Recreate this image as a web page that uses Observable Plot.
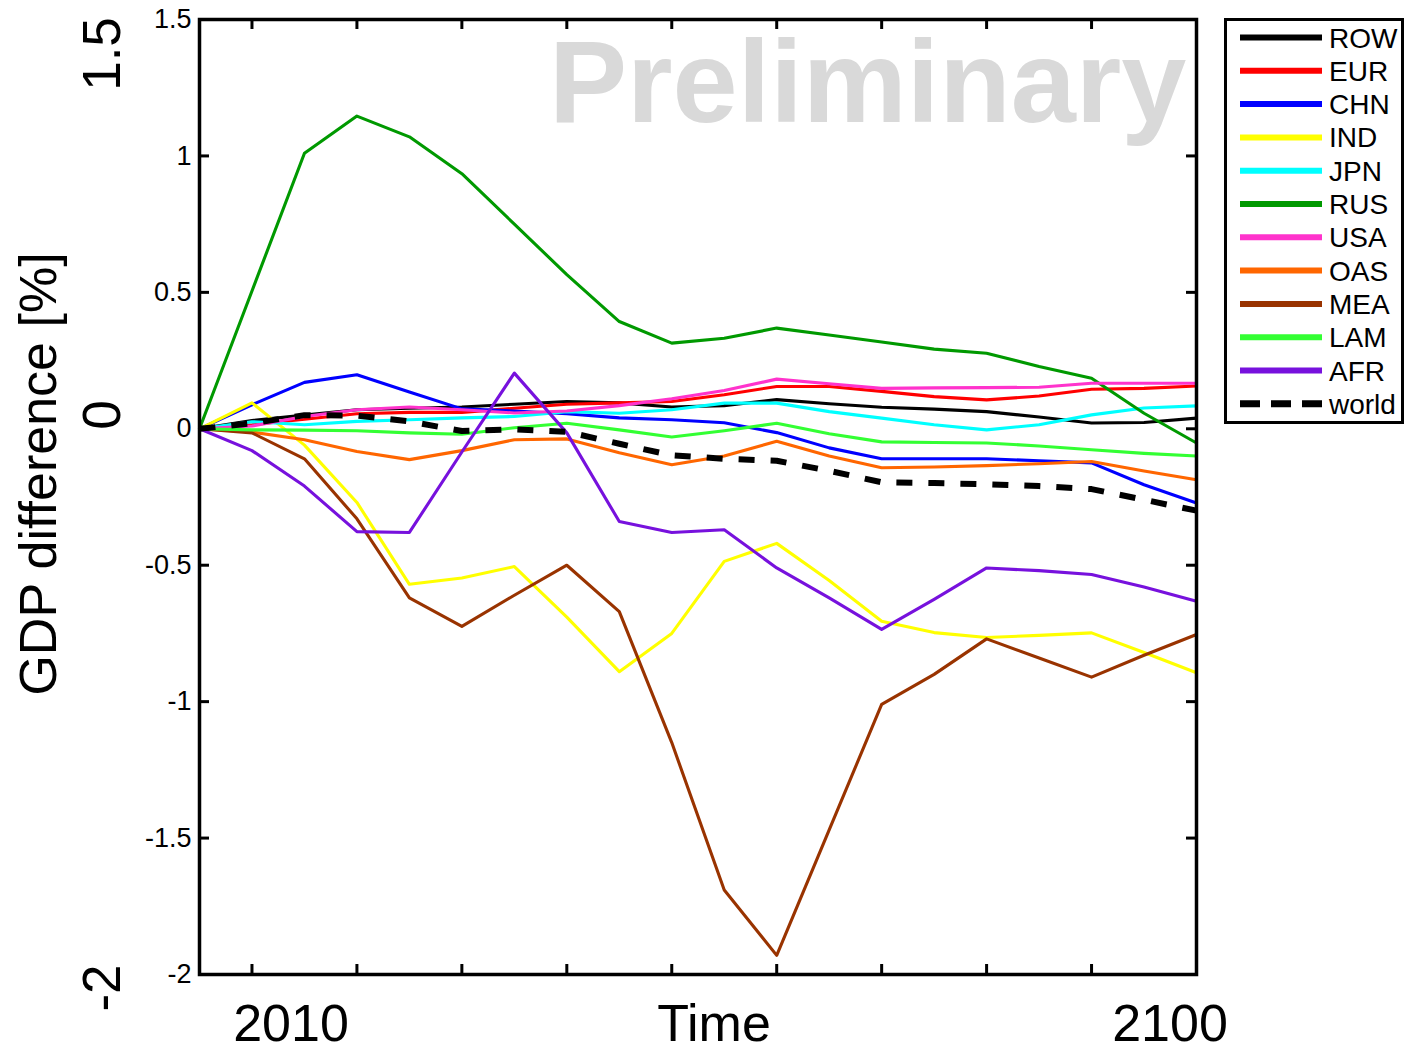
<!DOCTYPE html>
<html><head><meta charset="utf-8">
<script src="https://cdn.jsdelivr.net/npm/d3@7"></script>
<script src="https://cdn.jsdelivr.net/npm/@observablehq/plot@0.6"></script>
<style>
body{margin:0;background:#fff;}
#wrap{position:relative;width:1412px;height:1052px;}
</style></head><body><div id="wrap"></div>
<script>
const FONT = "'Liberation Sans', Arial, Helvetica, sans-serif";

const years = [2005,2010,2015,2020,2025,2030,2035,2040,2045,2050,2055,2060,2065,2070,2075,2080,2085,2090,2095,2100];
const regions = ["ROW","EUR","CHN","IND","JPN","RUS","USA","OAS","MEA","LAM","AFR","world"];
const colors  = ["#000000","#FF0000","#0000FF","#FFFF00","#00FFFF","#009900","#FF33CC","#FF6600","#993300","#33FF33","#7711DD","#000000"];

const ROW   = [0, 0.03, 0.05, 0.07, 0.075, 0.08, 0.09, 0.1, 0.095, 0.08, 0.085, 0.107, 0.092, 0.079, 0.072, 0.063, 0.043, 0.021, 0.023, 0.039];
const EUR   = [0, 0.015, 0.035, 0.055, 0.06, 0.06, 0.075, 0.09, 0.095, 0.1, 0.125, 0.155, 0.155, 0.137, 0.118, 0.106, 0.12, 0.145, 0.148, 0.157];
const CHN   = [0, 0.088, 0.17, 0.198, 0.135, 0.073, 0.065, 0.055, 0.04, 0.033, 0.022, -0.014, -0.07, -0.11, -0.11, -0.11, -0.117, -0.125, -0.205, -0.272];
const IND   = [0, 0.095, -0.06, -0.27, -0.57, -0.547, -0.505, -0.69, -0.89, -0.75, -0.486, -0.42, -0.556, -0.705, -0.747, -0.765, -0.757, -0.748, -0.82, -0.894];
const JPN   = [0, 0.026, 0.015, 0.027, 0.033, 0.04, 0.045, 0.063, 0.057, 0.07, 0.094, 0.094, 0.063, 0.039, 0.015, -0.004, 0.015, 0.051, 0.076, 0.084];
const RUS   = [0, 0.505, 1.01, 1.146, 1.07, 0.935, 0.75, 0.565, 0.393, 0.314, 0.332, 0.369, 0.344, 0.318, 0.292, 0.277, 0.228, 0.185, 0.057, -0.052];
const USA   = [0, 0.01, 0.045, 0.07, 0.08, 0.07, 0.058, 0.065, 0.085, 0.11, 0.14, 0.182, 0.165, 0.148, 0.15, 0.151, 0.152, 0.167, 0.167, 0.167];
const OAS   = [0, -0.012, -0.04, -0.083, -0.113, -0.08, -0.04, -0.037, -0.088, -0.132, -0.1, -0.046, -0.1, -0.143, -0.14, -0.135, -0.128, -0.12, -0.155, -0.187];
const MEA   = [0, -0.015, -0.11, -0.33, -0.62, -0.724, -0.61, -0.5, -0.67, -1.15, -1.69, -1.93, -1.47, -1.01, -0.9, -0.77, -0.84, -0.91, -0.83, -0.754];
const LAM   = [0, -0.004, -0.005, -0.007, -0.015, -0.02, 0.004, 0.02, -0.004, -0.03, -0.007, 0.02, -0.018, -0.048, -0.05, -0.052, -0.063, -0.077, -0.09, -0.1];
const AFR   = [0, -0.08, -0.21, -0.377, -0.38, -0.085, 0.204, -0.015, -0.34, -0.38, -0.37, -0.51, -0.62, -0.735, -0.625, -0.51, -0.52, -0.534, -0.58, -0.632];
const world = [0, 0.02, 0.05, 0.048, 0.027, -0.008, -0.002, -0.011, -0.055, -0.097, -0.11, -0.117, -0.154, -0.196, -0.199, -0.203, -0.21, -0.221, -0.26, -0.3];

const seriesValues = [ROW, EUR, CHN, IND, JPN, RUS, USA, OAS, MEA, LAM, AFR, world];

const xTicks = [2010,2020,2030,2040,2050,2060,2070,2080,2090];
const yTicks = [-2,-1.5,-1,-0.5,0,0.5,1,1.5];
const yTickLabels = ["-2","-1.5","-1","-0.5","0","0.5","1","1.5"];

const xLabels = ["2010","Time","2100"];
const yLabel = "GDP difference [%]";
const bigYLabels = ["1.5","0","-2"];
const watermark = "Preliminary";

// long table
const data = [];
regions.forEach((r, i) => seriesValues[i].forEach((v, j) => data.push({region: r, year: years[j], value: v})));

const W = 1412, H = 1052;
const mL = 199, mR = 216, mT = 19, mB = 78;
const frameW = W - mL - mR, frameH = H - mT - mB;
const TICK = 10;

const lineMarks = regions.map((r, i) => Plot.line(data.filter(d => d.region === r), {
  x: "year", y: "value",
  stroke: colors[i],
  strokeWidth: r === "world" ? 6 : 3.1,
  strokeDasharray: r === "world" ? "16,16" : null,
  strokeLinecap: r === "world" ? "butt" : "round",
  strokeLinejoin: "round"
}));

const chart = Plot.plot({
  width: W, height: H,
  marginLeft: mL, marginRight: mR, marginTop: mT, marginBottom: mB,
  x: {domain: [2005, 2100], axis: null},
  y: {domain: [-2, 1.5], axis: null},
  style: {fontFamily: FONT, background: "#fff", color: "#000"},
  marks: [
    ...lineMarks,
    Plot.ruleX(xTicks, {x: d => d, stroke: "#000", strokeWidth: 3, insetTop: frameH - TICK}),
    Plot.ruleX(xTicks, {x: d => d, stroke: "#000", strokeWidth: 3, insetBottom: frameH - TICK}),
    Plot.ruleY(yTicks, {y: d => d, stroke: "#000", strokeWidth: 3, insetRight: frameW - TICK}),
    Plot.ruleY(yTicks, {y: d => d, stroke: "#000", strokeWidth: 3, insetLeft: frameW - TICK}),
    Plot.frame({stroke: "#000", strokeWidth: 3.5}),
    Plot.text(yTicks, {y: d => d, text: (d, i) => yTickLabels[i], frameAnchor: "left", textAnchor: "end", dx: -8, fontSize: 27, fill: "#000"})
  ]
});

document.getElementById("wrap").appendChild(chart);

const svg = d3.select(chart);

// watermark behind the lines
svg.insert("text", "g")
  .attr("x", 549).attr("y", 122)
  .attr("text-anchor", "start")
  .attr("font-family", FONT).attr("font-weight", "bold").attr("font-size", 117)
  .attr("fill", "#D9D9D9")
  .text(watermark);

const ann = svg.append("g").attr("font-family", FONT).attr("fill", "#000");
// bottom big labels
const bx = [291, 714, 1170];
xLabels.forEach((t, i) => ann.append("text").attr("x", bx[i]).attr("y", 1041)
  .attr("text-anchor", "middle").attr("font-size", 52).text(t));
// rotated y label
ann.append("text").attr("transform", "translate(56,474) rotate(-90)")
  .attr("text-anchor", "middle").attr("font-size", 52).text(yLabel);
// rotated big numbers
const by = [54, 415, 988];
bigYLabels.forEach((t, i) => ann.append("text").attr("transform", `translate(120,${by[i]}) rotate(-90)`)
  .attr("text-anchor", "middle").attr("font-size", 53).text(t));

// legend
const lg = svg.append("g").attr("font-family", FONT);
lg.append("rect").attr("x", 1225.5).attr("y", 19.5).attr("width", 177).attr("height", 403)
  .attr("fill", "#fff").attr("stroke", "#000").attr("stroke-width", 3);
regions.forEach((r, i) => {
  const yy = 37.5 + i * 33.3;
  lg.append("line").attr("x1", 1240).attr("x2", 1322).attr("y1", yy).attr("y2", yy)
    .attr("stroke", colors[i]).attr("stroke-width", r === "world" ? 7 : 6)
    .attr("stroke-dasharray", r === "world" ? "20,11" : null);
  lg.append("text").attr("x", 1329).attr("y", yy + 10).attr("text-anchor", "start")
    .attr("font-size", 28).attr("fill", "#000").text(r);
});
</script>
</body></html>
